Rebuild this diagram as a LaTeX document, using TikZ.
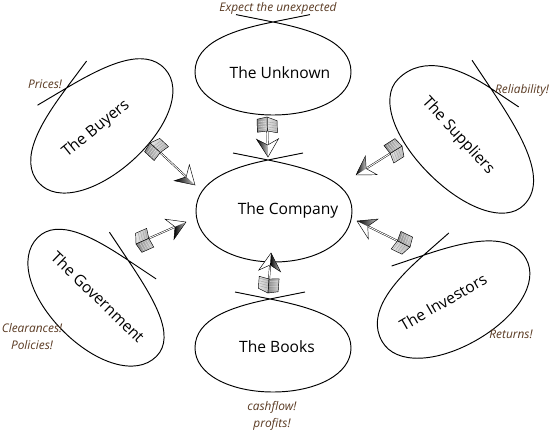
\documentclass[tikz,border=0pt]{standalone}
\usepackage{fontspec}
\setmainfont{Open Sans}
\definecolor{notebrown}{RGB}{90,58,34}
\tikzset{
  loopline/.style={line width=0.95pt, black},
  lab/.style={font=\fontsize{15.6}{18}\selectfont, inner sep=0pt},
  note/.style={font=\itshape\fontsize{11.9}{17}\selectfont, text=notebrown, align=center, inner sep=0pt},
  shaftline/.style={double=white, double distance=0.9pt, line width=0.45pt},
  fletchline/.style={line width=0.45pt, black}
}
% #1 centre, #2 rotation, #3 half length, #4 depth below, #5 crossing height, #6 crossing offset, #7 tail
\newcommand\loopshape[7]{%
\begin{scope}[shift={#1},rotate=#2]
\draw[loopline] ({#6-#7},{#5+0.2*#7}) -- (#6,#5)
 .. controls ({#6+0.5*(#3-(#6))},{#5-0.1*(#3-(#6))}) and (#3,{0.6*#5}) .. (#3,0)
 .. controls (#3,{-0.6*#4}) and ({0.55*#3},-#4) .. (0,-#4)
 .. controls ({-0.55*#3},-#4) and (-#3,{-0.6*#4}) .. (-#3,0)
 .. controls (-#3,{0.6*#5}) and ({#6-0.5*(#3+#6)},{#5-0.1*(#3+#6)}) .. (#6,#5)
 -- ({#6+#7},{#5+0.2*#7});
\end{scope}}
\newcommand\fletch[2]{%
 \path (#1); \pgfgetlastxy{\fXa}{\fYa}%
 \path (#2); \pgfgetlastxy{\fXb}{\fYb}%
 \pgfmathsetmacro\fAng{atan2((\fYb)-(\fYa),(\fXb)-(\fXa))}%
 \pgfmathsetmacro\fLen{veclen((\fXb)-(\fXa),(\fYb)-(\fYa))}%
 \begin{scope}[shift={(\fXa,\fYa)},rotate=\fAng]
  \draw[shaftline] (4,0) -- ({\fLen-13},0);
  % fletching
  \shade[left color=gray!20, right color=gray!55] (0,0) -- (4,10) -- (16,10) -- (14,0) -- cycle;
  \foreach \k in {5,7.5,10,12.5} \draw[gray!80, line width=0.3pt] (\k,1) -- (\k+1.5,9);
  \draw[fletchline] (0,0) -- (4,10) -- (16,10) -- (14,0) -- cycle;
  \shade[left color=gray!95, right color=gray!35] (0,0) -- (2,-10) -- (15,-10) -- (14,0) -- cycle;
  \foreach \k in {4,6.5,9,11.5} \draw[gray!15, line width=0.3pt] (\k,-1) -- (\k+0.8,-9);
  \draw[fletchline] (0,0) -- (2,-10) -- (15,-10) -- (14,0) -- cycle;
  % head
  \fill[white] (\fLen,0) -- ({\fLen-18},11) -- ({\fLen-12},0) -- ({\fLen-18},-11) -- cycle;
  \shade[left color=black, right color=gray!45] (\fLen,0) -- ({\fLen-12},0) -- ({\fLen-18},-11) -- cycle;
  \draw[fletchline] (\fLen,0) -- ({\fLen-18},11) -- ({\fLen-12},0) -- ({\fLen-18},-11) -- cycle;
 \end{scope}}
\begin{document}
\begin{tikzpicture}[x=1pt,y=1pt]
\useasboundingbox (0,0) rectangle (554,-431);
\fill[white] (0,0) rectangle (554,-431);

% loops
\loopshape{(273,-72)}{0}{78}{43}{50}{0}{37}
\loopshape{(274,-211)}{0}{78}{51}{51}{-6}{35}
\loopshape{(273,-348)}{0}{78}{44}{49}{-3}{35}
\loopshape{(102,-126)}{42}{85}{46}{52}{-1}{33}
\loopshape{(461,-142)}{-45}{89}{45}{59}{-17}{33}
\loopshape{(97,-297)}{-45}{84}{48}{48}{-4}{33}
\loopshape{(454,-300)}{30}{83}{46}{54}{-4}{33}

% main texts
\node[lab] (unknown) at (280,-73) {The Unknown};
\node[lab] (company) at (288,-210) {The Company};
\node[lab] (books) at (277,-347) {The Books};
\node[lab, rotate=39] (buyers) at (96,-129) {The Buyers};
\node[lab, rotate=-47.5] (suppliers) at (458,-136) {The Suppliers};
\node[lab, rotate=-44] (gov) at (98,-297) {The Government};
\node[lab, rotate=30] (investors) at (443,-302) {The Investors};

% notes
\node[note] (nunk) at (278,-8) {Expect the unexpected};
\node[note] (nprices) at (45,-84) {Prices!};
\node[note] (nrel) at (522,-90) {Reliability!};
\node[note] (ngov) at (32,-337) {Clearances!\\Policies!};
\node[note] (nret) at (511,-334) {Returns!};
\node[note] (nbooks) at (272,-416) {cashflow!\\profits!};

% arrows
\coordinate (aBuyT) at (150,-143); \coordinate (aBuyH) at (195,-185);
\coordinate (aUnkT) at (267,-117); \coordinate (aUnkH) at (268,-157);
\coordinate (aSupT) at (402,-146); \coordinate (aSupH) at (356,-175);
\coordinate (aGovT) at (136,-244); \coordinate (aGovH) at (186,-222);
\coordinate (aBooT) at (268,-293); \coordinate (aBooH) at (271,-253);
\coordinate (aInvT) at (410,-247); \coordinate (aInvH) at (357,-221);
\fletch{aBuyT}{aBuyH}
\fletch{aUnkT}{aUnkH}
\fletch{aSupT}{aSupH}
\fletch{aGovT}{aGovH}
\fletch{aBooT}{aBooH}
\fletch{aInvT}{aInvH}
\end{tikzpicture}
\end{document}
